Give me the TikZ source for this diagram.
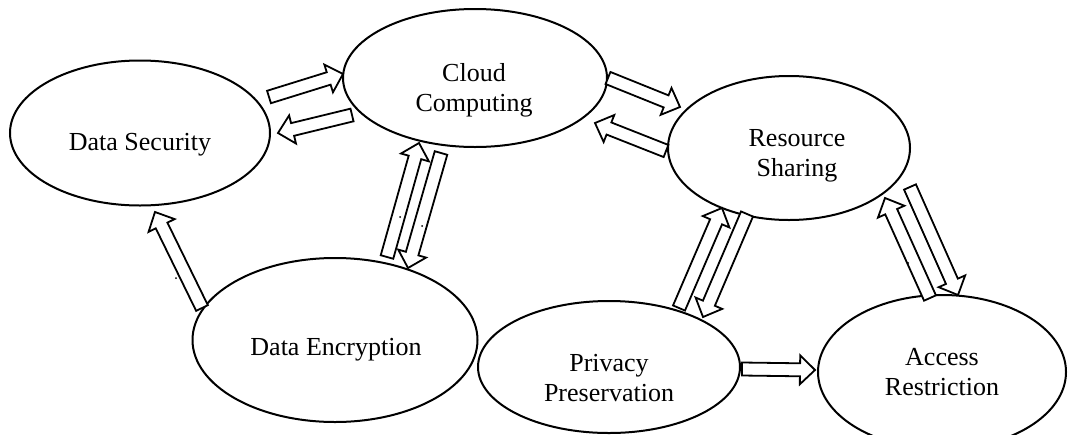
\documentclass[tikz,border=0pt]{standalone}
\usepackage{fontspec}
\setmainfont{Liberation Serif}
\usetikzlibrary{shapes,arrows,calc,positioning}

\tikzset{
  blob/.style={ellipse, draw=black, line width=2pt, inner sep=0pt, outer sep=0pt},
  blobtext/.style={align=center, font=\fontsize{26}{30}\selectfont, inner sep=0pt},
  hollow/.style={draw=black, line width=1.8pt, fill=white, line join=miter},
  speck/.style={circle, fill=black, minimum size=2pt, inner sep=0pt}
}

% hollow block arrow from #1 (tail) to #2 (tip)
\newcommand{\blockarrow}[2]{%
  \coordinate (hb) at ($(#2)!15pt!(#1)$);
  \draw[hollow] ($(#1)!6.5pt!90:(#2)$) -- ($(hb)!6.5pt!90:(#2)$) -- ($(hb)!14.5pt!90:(#2)$)
    -- (#2) -- ($(hb)!14.5pt!-90:(#2)$) -- ($(hb)!6.5pt!-90:(#2)$) -- ($(#1)!6.5pt!-90:(#2)$) -- cycle;
}

\begin{document}
\begin{tikzpicture}[x=1pt, y=-1pt]
  \clip (0,0) rectangle (1075,434);

  % the six topics
  \node[blob, minimum width=260pt, minimum height=145pt] (ds) at (140,133) {};
  \node[blob, minimum width=264pt, minimum height=138pt] (cc) at (475,78) {};
  \node[blob, minimum width=242pt, minimum height=144pt] (rs) at (789,148) {};
  \node[blob, minimum width=285pt, minimum height=164pt] (de) at (335,340) {};
  \node[blob, minimum width=262pt, minimum height=132pt] (pp) at (609,367) {};
  \node[blob, minimum width=248pt, minimum height=154pt] (ar) at (942,372) {};

  \node[blobtext] (ds-txt) at (140,145) {Data Security};
  \node[blobtext] (cc-txt) at (474,90) {Cloud\\Computing};
  \node[blobtext] (rs-txt) at (797,156) {Resource\\Sharing};
  \node[blobtext] (de-txt) at (336,350) {Data Encryption};
  \node[blobtext] (pp-txt) at (609,378) {Privacy\\Preservation};
  \node[blobtext] (ar-txt) at (942,372) {Access\\Restriction};

  % arrow ends
  \coordinate (a1) at (269,97);   \coordinate (b1) at (343,74);
  \coordinate (a2) at (352,115);  \coordinate (b2) at (278,133);
  \coordinate (a3) at (608,78);   \coordinate (b3) at (680,107);
  \coordinate (a4) at (666,151);  \coordinate (b4) at (595,123);
  \coordinate (a5) at (387,257);  \coordinate (b5) at (419,143);
  \coordinate (a6) at (441,153);  \coordinate (b6) at (408,268);
  \coordinate (a7) at (202,308);  \coordinate (b7) at (155,212);
  \coordinate (a8) at (679,308);  \coordinate (b8) at (722,208);
  \coordinate (a9) at (747,214);  \coordinate (b9) at (703,317);
  \coordinate (a10) at (930,298); \coordinate (b10) at (885,198);
  \coordinate (a11) at (910,187); \coordinate (b11) at (958,295);
  \coordinate (a12) at (742,369); \coordinate (b12) at (815,370);

  \blockarrow{a1}{b1}
  \blockarrow{a2}{b2}
  \blockarrow{a3}{b3}
  \blockarrow{a4}{b4}
  \blockarrow{a5}{b5}
  \blockarrow{a6}{b6}
  \blockarrow{a7}{b7}
  \blockarrow{a8}{b8}
  \blockarrow{a9}{b9}
  \blockarrow{a10}{b10}
  \blockarrow{a11}{b11}
  \blockarrow{a12}{b12}

  % stray marks
  \node[speck] (s1) at (400,217) {};
  \node[speck] (s2) at (422,226) {};
  \node[speck] (s3) at (176,278) {};
  \node[speck] (s4) at (908,263) {};
\end{tikzpicture}
\end{document}
